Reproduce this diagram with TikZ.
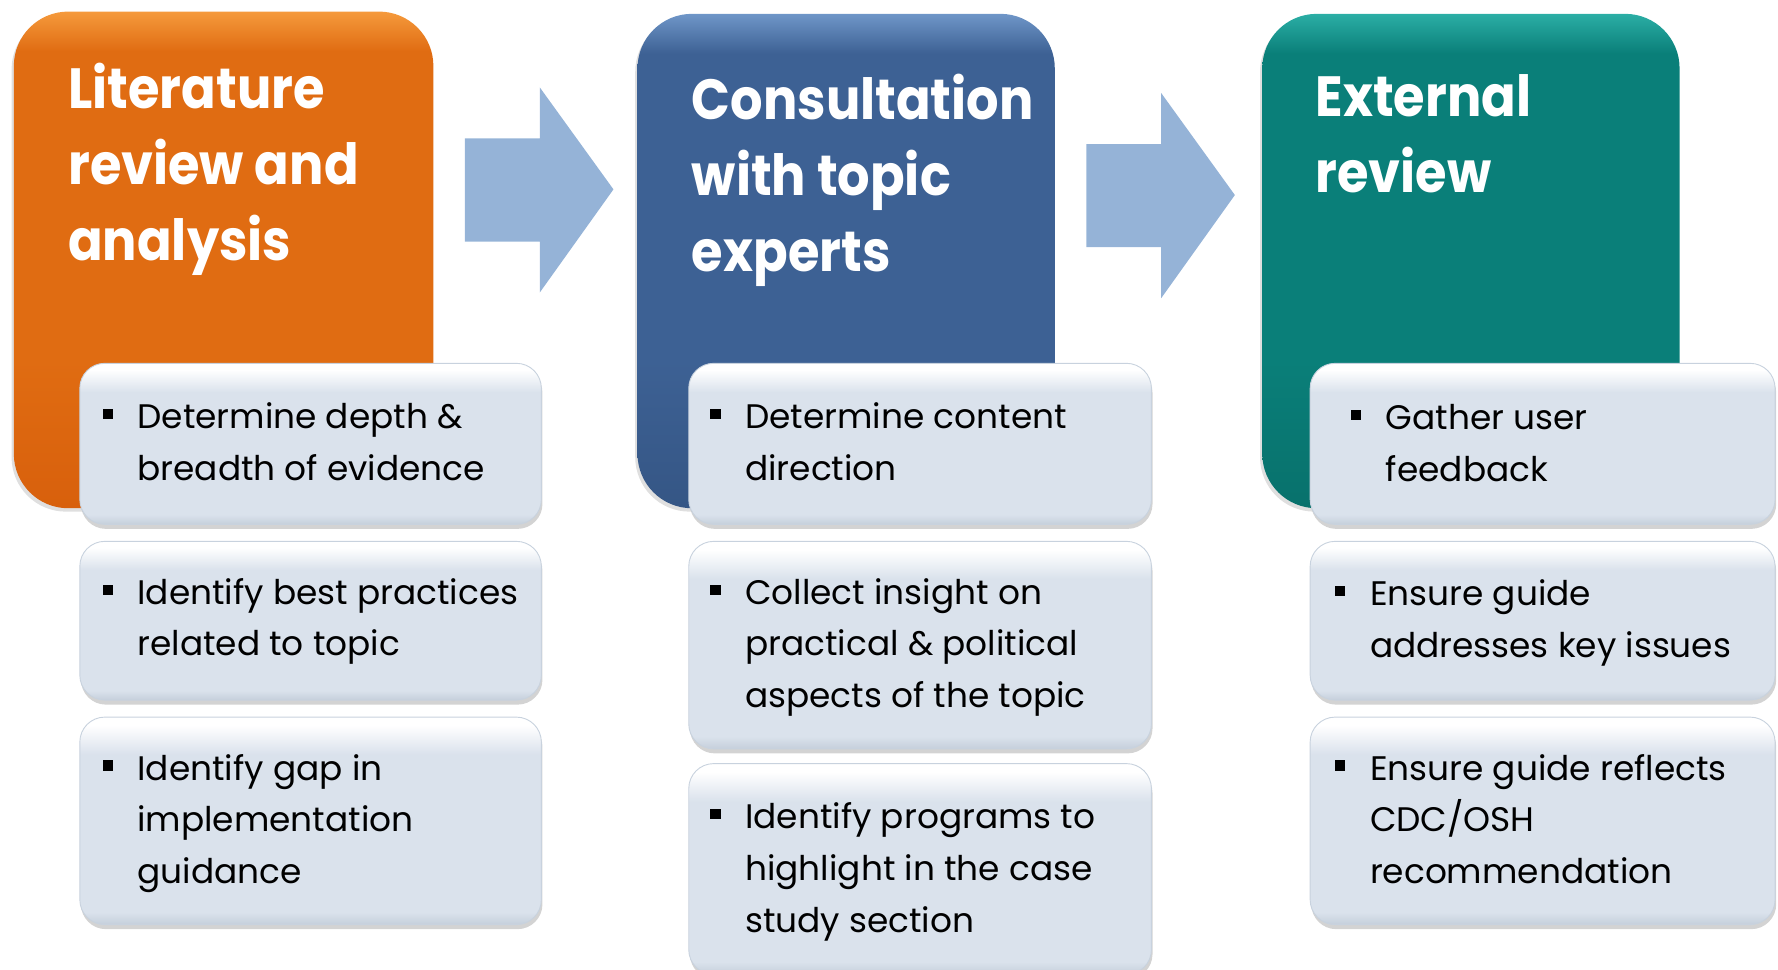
\documentclass[tikz,border=0pt]{standalone}
\usepackage{fontspec}
\setmainfont{Poppins}
\newfontfamily\headfont{Poppins}[FakeStretch=0.9]
\newfontfamily\bodyfont{Poppins}[FakeStretch=1.01]
\usetikzlibrary{shadows}

% stacked lines whose baseline is the first line
\newcommand{\txtlines}[1]{\begin{tabular}[t]{@{}l@{}}#1\end{tabular}}

% palette
\definecolor{orMain}{HTML}{E06C12}
\definecolor{orTop}{HTML}{F59A3C}
\definecolor{orBot}{HTML}{D8600C}
\definecolor{blMain}{HTML}{3D6194}
\definecolor{blTop}{HTML}{6F96C8}
\definecolor{blBot}{HTML}{355685}
\definecolor{tlMain}{HTML}{0A7F79}
\definecolor{tlTop}{HTML}{2BAEA5}
\definecolor{tlBot}{HTML}{08716C}
\definecolor{arrowBlue}{HTML}{95B3D7}
\definecolor{bxFill}{HTML}{DAE2EC}
\definecolor{bxEdge}{HTML}{C5CFDB}
\definecolor{bxRim}{HTML}{C8D2DE}

% vertical shadings (25bp..75bp spans the filled path)
\pgfdeclareverticalshading{orshade}{100bp}{color(0bp)=(orBot); color(25bp)=(orBot); color(40bp)=(orMain); color(71bp)=(orMain); color(75bp)=(orTop); color(100bp)=(orTop)}
\pgfdeclareverticalshading{blshade}{100bp}{color(0bp)=(blBot); color(25bp)=(blBot); color(40bp)=(blMain); color(71bp)=(blMain); color(75bp)=(blTop); color(100bp)=(blTop)}
\pgfdeclareverticalshading{tlshade}{100bp}{color(0bp)=(tlBot); color(25bp)=(tlBot); color(40bp)=(tlMain); color(71bp)=(tlMain); color(75bp)=(tlTop); color(100bp)=(tlTop)}
\pgfdeclareverticalshading{bxshade}{100bp}{color(0bp)=(bxEdge); color(25bp)=(bxEdge); color(28bp)=(bxFill); color(66bp)=(bxFill); color(73bp)=(white); color(75bp)=(white); color(100bp)=(white)}

\tikzset{
  hdrbox/.style={rectangle, rounded corners=48pt, inner sep=0pt, anchor=north west,
    drop shadow={shadow xshift=-2pt, shadow yshift=-3pt, opacity=0.25}},
  hdrtext/.style={anchor=base west, inner sep=0pt, text=white,
    font=\headfont\bfseries\fontsize{50}{67}\selectfont},
  bulletbox/.style={rectangle, rounded corners=22pt, inner sep=0pt, anchor=north west,
    shading=bxshade, draw=bxRim, line width=0.8pt,
    drop shadow={shadow xshift=1pt, shadow yshift=-4pt, opacity=0.35}},
  bodytext/.style={anchor=base west, inner sep=0pt, text=black,
    font=\bodyfont\fontsize{30}{45.5}\selectfont},
  bulletsq/.style={rectangle, fill=black, inner sep=0pt, minimum size=9pt},
  blockarrow/.style={fill=arrowBlue, draw=none}
}

\begin{document}
\begin{tikzpicture}[x=1pt,y=-1pt]
\useasboundingbox (0,0) rectangle (1568,855);

% step headers
\node[hdrbox, shading=orshade, minimum width=370pt, minimum height=438pt] (litbox) at (12,10) {};
\node[hdrbox, shading=blshade, minimum width=368pt, minimum height=436pt] (conbox) at (562,12) {};
\node[hdrbox, shading=tlshade, minimum width=368pt, minimum height=436pt] (extbox) at (1113,12) {};

\node[hdrtext] (littitle) at (60,96) {\txtlines{Literature\\review and\\analysis}};
\node[hdrtext] (contitle) at (610,105) {\txtlines{Consultation\\with topic\\experts}};
\node[hdrtext] (exttitle) at (1160,103) {\txtlines{External\\review}};

% block arrows between the steps
\draw[blockarrow] (410,122) -- (476,122) -- (476,77) -- (541,167) -- (476,258)
  -- (476,213) -- (410,213) -- cycle;
\draw[blockarrow] (958,127) -- (1024,127) -- (1024,82) -- (1089,172) -- (1024,263)
  -- (1024,218) -- (958,218) -- cycle;

% column 1
\node[bulletbox, minimum width=407pt, minimum height=142pt] (l1) at (70,320) {};
\node[bulletbox, minimum width=407pt, minimum height=140pt] (l2) at (70,477) {};
\node[bulletbox, minimum width=407pt, minimum height=183pt] (l3) at (70,632) {};
\node[bulletsq] (l1b) at (95,365) {};
\node[bulletsq] (l2b) at (95,520) {};
\node[bulletsq] (l3b) at (95,675) {};
\node[bodytext] (l1t) at (121,378) {\txtlines{Determine depth \&\\breadth of evidence}};
\node[bodytext] (l2t) at (121,533) {\txtlines{Identify best practices\\related to topic}};
\node[bodytext] (l3t) at (121,688) {\txtlines{Identify gap in\\implementation\\guidance}};

% column 2
\node[bulletbox, minimum width=408pt, minimum height=142pt] (c1) at (607,320) {};
\node[bulletbox, minimum width=408pt, minimum height=183pt] (c2) at (607,477) {};
\node[bulletbox, minimum width=408pt, minimum height=186pt] (c3) at (607,673) {};
\node[bulletsq] (c1b) at (631,365) {};
\node[bulletsq] (c2b) at (631,520) {};
\node[bulletsq] (c3b) at (631,718) {};
\node[bodytext] (c1t) at (657,378) {\txtlines{Determine content\\direction}};
\node[bodytext] (c2t) at (657,533) {\txtlines{Collect insight on\\practical \& political\\aspects of the topic}};
\node[bodytext] (c3t) at (657,731) {\txtlines{Identify programs to\\highlight in the case\\study section}};

% column 3
\node[bulletbox, minimum width=410pt, minimum height=142pt] (e1) at (1155,320) {};
\node[bulletbox, minimum width=410pt, minimum height=140pt] (e2) at (1155,477) {};
\node[bulletbox, minimum width=410pt, minimum height=183pt] (e3) at (1155,632) {};
\node[bulletsq] (e1b) at (1196,366) {};
\node[bulletsq] (e2b) at (1182,521) {};
\node[bulletsq] (e3b) at (1182,675) {};
\node[bodytext] (e1t) at (1222,379) {\txtlines{Gather user\\feedback}};
\node[bodytext] (e2t) at (1208,534) {\txtlines{Ensure guide\\addresses key issues}};
\node[bodytext] (e3t) at (1208,688) {\txtlines{Ensure guide reflects\\CDC/OSH\\recommendation}};
\end{tikzpicture}
\end{document}
